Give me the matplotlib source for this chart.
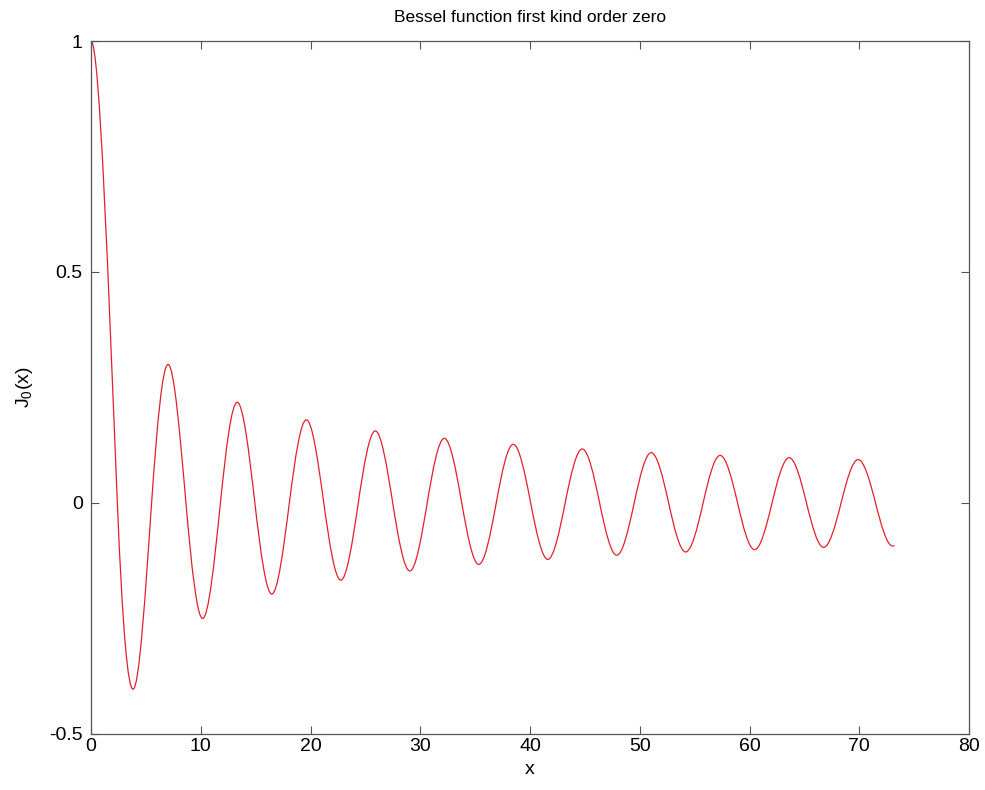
import numpy as np
import matplotlib
matplotlib.use("Agg")
import matplotlib.pyplot as plt
from matplotlib.path import Path
from matplotlib.patches import PathPatch

# --------------------------------------------------------------
# Curve data: extrema and zero crossings of J0(x)
# --------------------------------------------------------------
extrema_x = [0.0, 3.83, 7.02, 10.17, 13.32, 16.47, 19.62, 22.76, 25.90, 29.05,
             32.19, 35.33, 38.47, 41.62, 44.76, 47.90, 51.04, 54.18, 57.32,
             60.46, 63.61, 66.75, 69.89, 73.03]
extrema_y = [1.0, -0.403, 0.300, -0.250, 0.218, -0.197, 0.180, -0.167, 0.156,
             -0.147, 0.140, -0.133, 0.127, -0.122, 0.117, -0.113, 0.109,
             -0.106, 0.103, -0.101, 0.098, -0.096, 0.094, -0.093]
zeros_x = [2.40, 5.52, 8.65, 11.79, 14.93, 18.07, 21.21, 24.35, 27.49, 30.63,
           33.78, 36.92, 40.06, 43.20, 46.34, 49.49, 52.63, 55.77, 58.91,
           62.05, 65.19, 68.34, 71.48]
end_x, end_y = 73.2, -0.093

x_ticks = [0, 10, 20, 30, 40, 50, 60, 70, 80]
y_ticks = [-0.5, 0, 0.5, 1]
y_tick_labels = ["-0.5", "0", "0.5", "1"]

# --------------------------------------------------------------
# Build a smooth path: cubic segments extremum -> zero -> extremum
# --------------------------------------------------------------
verts = [(extrema_x[0], extrema_y[0])]
codes = [Path.MOVETO]
for i, xz in enumerate(zeros_x):
    xa, ya = extrema_x[i], extrema_y[i]
    xb, yb = extrema_x[i + 1], extrema_y[i + 1]
    # slope at the crossing of a cosine-like half wave
    m = (yb - ya) / (xb - xa) * np.pi / 2
    d1 = xz - xa
    verts += [(xa + d1 / 3, ya), (xz - d1 / 3, -m * d1 / 3), (xz, 0.0)]
    codes += [Path.CURVE4] * 3
    d2 = xb - xz
    verts += [(xz + d2 / 3, m * d2 / 3), (xb - d2 / 3, yb), (xb, yb)]
    codes += [Path.CURVE4] * 3
verts.append((end_x, end_y))
codes.append(Path.LINETO)

# --------------------------------------------------------------
# Plot
# --------------------------------------------------------------
plt.rcParams["font.family"] = ["Liberation Sans", "DejaVu Sans"]
plt.rcParams["mathtext.default"] = "regular"

fig = plt.figure(figsize=(9.85, 7.9), dpi=100)
ax = fig.add_axes([0.0924, 0.0709, 0.8914, 0.8772])

ax.add_patch(PathPatch(Path(verts, codes), facecolor="none",
                       edgecolor="#e3202c", linewidth=0.9))

ax.set_xlim(0, 80)
ax.set_ylim(-0.5, 1)
ax.set_xticks(x_ticks)
ax.set_yticks(y_ticks)
ax.set_yticklabels(y_tick_labels)
ax.tick_params(direction="in", top=True, right=True, length=6,
               width=0.8, color="#555555", labelsize=14)
ax.tick_params(axis="y", pad=6)
ax.tick_params(axis="x", pad=3)
for s in ax.spines.values():
    s.set_color("#555555")
    s.set_linewidth(0.9)

ax.set_title("Bessel function first kind order zero", fontsize=12.5, pad=14)
ax.set_xlabel("x", fontsize=14, labelpad=4)
ax.set_ylabel("J$_0$(x)", fontsize=14, labelpad=10)

fig.savefig("out.png", dpi=100)
